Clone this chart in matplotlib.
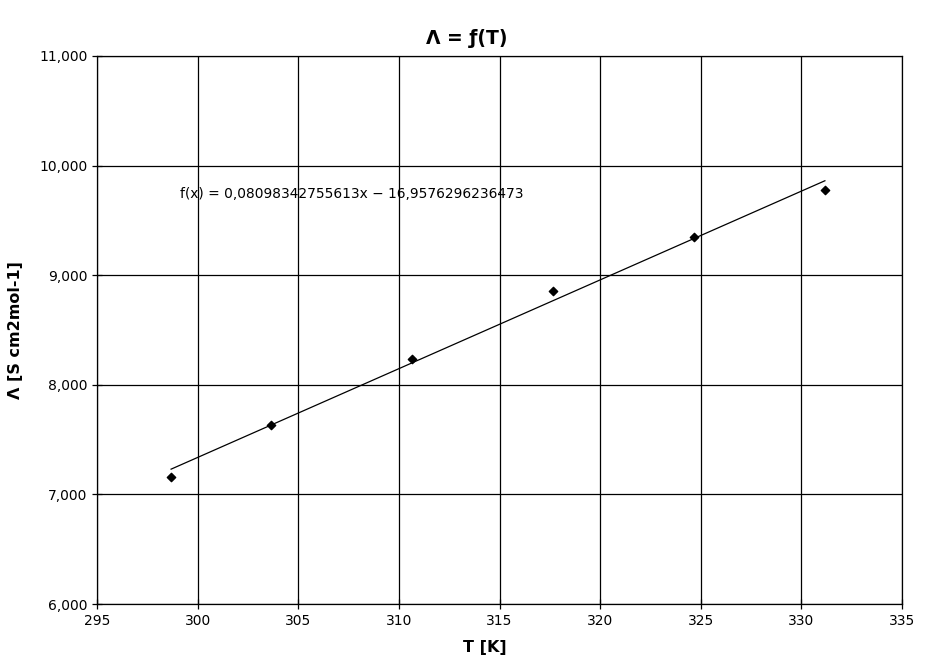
import matplotlib
matplotlib.use("Agg")
import matplotlib.pyplot as plt
from matplotlib.ticker import FuncFormatter, MultipleLocator
import numpy as np

# measured temperatures and molar conductivity
T = [298.68, 303.65, 310.65, 317.66, 324.66, 331.17]
lam = [7.159, 7.633, 8.235, 8.856, 9.349, 9.777]

slope = 0.08098342755613
intercept = -16.9576296236473
fit_label = "f(x) = 0,08098342755613x \u2212 16,9576296236473"

fig = plt.figure(figsize=(9.34, 6.61), dpi=100)
ax = fig.add_axes([0.1039, 0.0862, 0.8618, 0.8291])

xs = np.array([T[0], T[-1]])
ax.plot(xs, slope * xs + intercept, color="black", linewidth=0.9, zorder=3)
ax.scatter(T, lam, marker="D", s=18, color="black", zorder=4)

ax.set_xlim(295, 335)
ax.set_ylim(6, 11)
ax.xaxis.set_major_locator(MultipleLocator(5))
ax.yaxis.set_major_locator(MultipleLocator(1))
ax.yaxis.set_major_formatter(FuncFormatter(lambda v, p: f"{v:.3f}".replace(".", ",")))
ax.grid(True, color="black", linewidth=0.9)
ax.set_axisbelow(True)
ax.tick_params(direction="inout", length=7, width=0.9, labelsize=10, colors="black")
for s in ax.spines.values():
    s.set_linewidth(0.9)

ax.text(299.12, 9.74, fit_label, fontsize=9.9, va="center", ha="left")

fig.text(0.5, 0.9425, "\u039b = \u0192(T)", fontsize=13.5, fontweight="bold",
         ha="center", va="center")
fig.text(0.519, 0.02, "T [K]", fontsize=11.5, fontweight="bold", ha="center", va="center")
fig.text(0.017, 0.5, "\u039b [S cm2mol-1]", fontsize=11.5, fontweight="bold",
         rotation=90, ha="center", va="center")

fig.savefig("out.png", dpi=100)
